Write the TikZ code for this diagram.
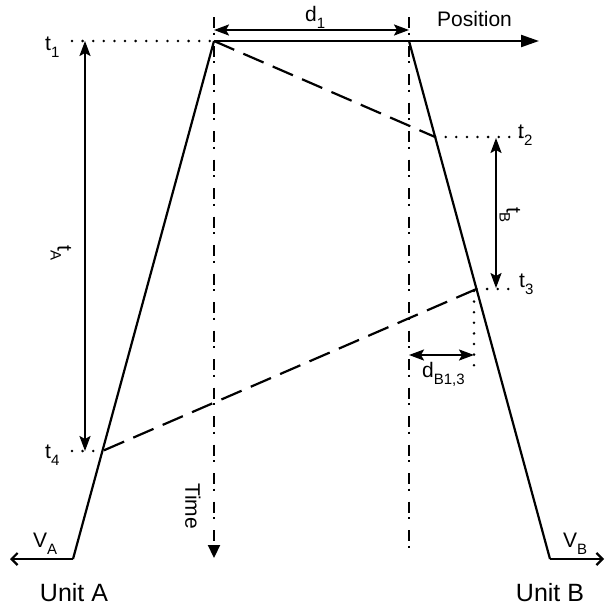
\documentclass[tikz,border=0pt]{standalone}
\usepackage{fontspec}
\setmainfont{Liberation Sans}
\usetikzlibrary{arrows.meta}

\newcommand{\lowsub}[1]{\raisebox{-7pt}{\fontsize{15}{15}\selectfont #1}}

\tikzset{
  unitline/.style={line width=2.2pt},
  spanarrow/.style={line width=2.2pt, {Stealth[length=15pt,width=11pt,inset=3pt]}-{Stealth[length=15pt,width=11pt,inset=3pt]}},
  dotline/.style={line width=2.8pt, dash pattern=on 0pt off 10.6pt, line cap=round},
  msgline/.style={line width=2.2pt, dash pattern=on 22pt off 10pt},
  timeline/.style={line width=2.2pt, dash pattern=on 11pt off 4.5pt on 2pt off 11pt},
  lbl/.style={font=\fontsize{21}{21}\selectfont, inner sep=0pt},
  unitlbl/.style={font=\fontsize{25}{25}\selectfont, inner sep=0pt},
}

\begin{document}
\begin{tikzpicture}[x=1pt,y=-1pt]
    \useasboundingbox (0,0) rectangle (605,605);

    % Unit positions and events
    \coordinate (A1) at (214,41);
    \coordinate (B1) at (409,41);
    \coordinate (A0) at (73,559);
    \coordinate (B0) at (550,559);
    \coordinate (B2) at (435.1,137);
    \coordinate (B3) at (476.5,289);
    \coordinate (A4) at (102.4,451);

    % Time axes (dash-dot)
    \coordinate (TA0) at (214,17);
    \coordinate (TA1) at (214,558);
    \coordinate (TB0) at (409,17);
    \coordinate (TB1) at (409,558);
    \draw[timeline, -{Triangle[length=13pt,width=12pt]}] (TA0) -- (TA1);
    \draw[timeline] (TB0) -- (TB1);
    \node[lbl, rotate=-90] (time) at (193,506) {Time};

    % Position axis and d1
    \coordinate (PX) at (539,41);
    \draw[unitline, -{Triangle[length=18pt,width=12pt]}] (A1) -- (PX);
    \node[lbl, anchor=base west] (pos) at (437,27) {Position};
    \coordinate (D1a) at (214,30);
    \coordinate (D1b) at (409,30);
    \draw[spanarrow] (D1a) -- (D1b);
    \node[lbl, anchor=base west] (d1) at (305,21) {d\lowsub{1}};

    % Unit world lines
    \draw[unitline] (A1) -- (A0);
    \draw[unitline] (B1) -- (B0);
    \coordinate (VA) at (10,559);
    \coordinate (VB) at (604,559);
    \draw[unitline, -{Straight Barb[length=6pt,width=12pt]}] (A0) -- (VA);
    \draw[unitline, -{Straight Barb[length=6pt,width=12pt]}] (B0) -- (VB);
    \node[lbl, anchor=base west] (va) at (33,547) {V\lowsub{A}};
    \node[lbl, anchor=base west] (vb) at (563,547) {V\lowsub{B}};
    \node[unitlbl, anchor=base] (ua) at (74,601) {Unit A};
    \node[unitlbl, anchor=base] (ub) at (550,601) {Unit B};

    % Messages
    \draw[msgline] (A1) -- (B2);
    \draw[msgline] (B3) -- (A4);

    % Time marks
    \coordinate (T1e) at (72,41);
    \coordinate (T2e) at (520,137);
    \coordinate (T3e) at (516,289);
    \coordinate (T4e) at (72,451);
    \draw[dotline] (T1e) -- (A1);
    \draw[dotline] (B2) -- (T2e);
    \draw[dotline] (B3) -- (T3e);
    \draw[dotline] (T4e) -- (A4);
    \node[lbl, anchor=base west] (t1) at (45,50) {t\lowsub{1}};
    \node[lbl, anchor=base west] (t2) at (518,138) {t\lowsub{2}};
    \node[lbl, anchor=base west] (t3) at (519,287) {t\lowsub{3}};
    \node[lbl, anchor=base west] (t4) at (45,458) {t\lowsub{4}};

    % Durations
    \coordinate (TAa) at (85,41);
    \coordinate (TAb) at (85,451);
    \draw[spanarrow] (TAa) -- (TAb);
    \node[lbl, rotate=-90] (ta) at (61,253) {t\lowsub{A}};
    \coordinate (TBa) at (496,138);
    \coordinate (TBb) at (496,288);
    \draw[spanarrow] (TBa) -- (TBb);
    \node[lbl, rotate=-90] (tb) at (510,215) {t\lowsub{B}};

    % Distance of B at t3
    \coordinate (DBa) at (474,291);
    \coordinate (DBb) at (474,368);
    \draw[dotline] (DBa) -- (DBb);
    \coordinate (DBl) at (409,355);
    \coordinate (DBr) at (474,355);
    \draw[spanarrow] (DBl) -- (DBr);
    \node[lbl, anchor=base west] (db) at (422,377) {d\lowsub{B1,3}};
\end{tikzpicture}
\end{document}
